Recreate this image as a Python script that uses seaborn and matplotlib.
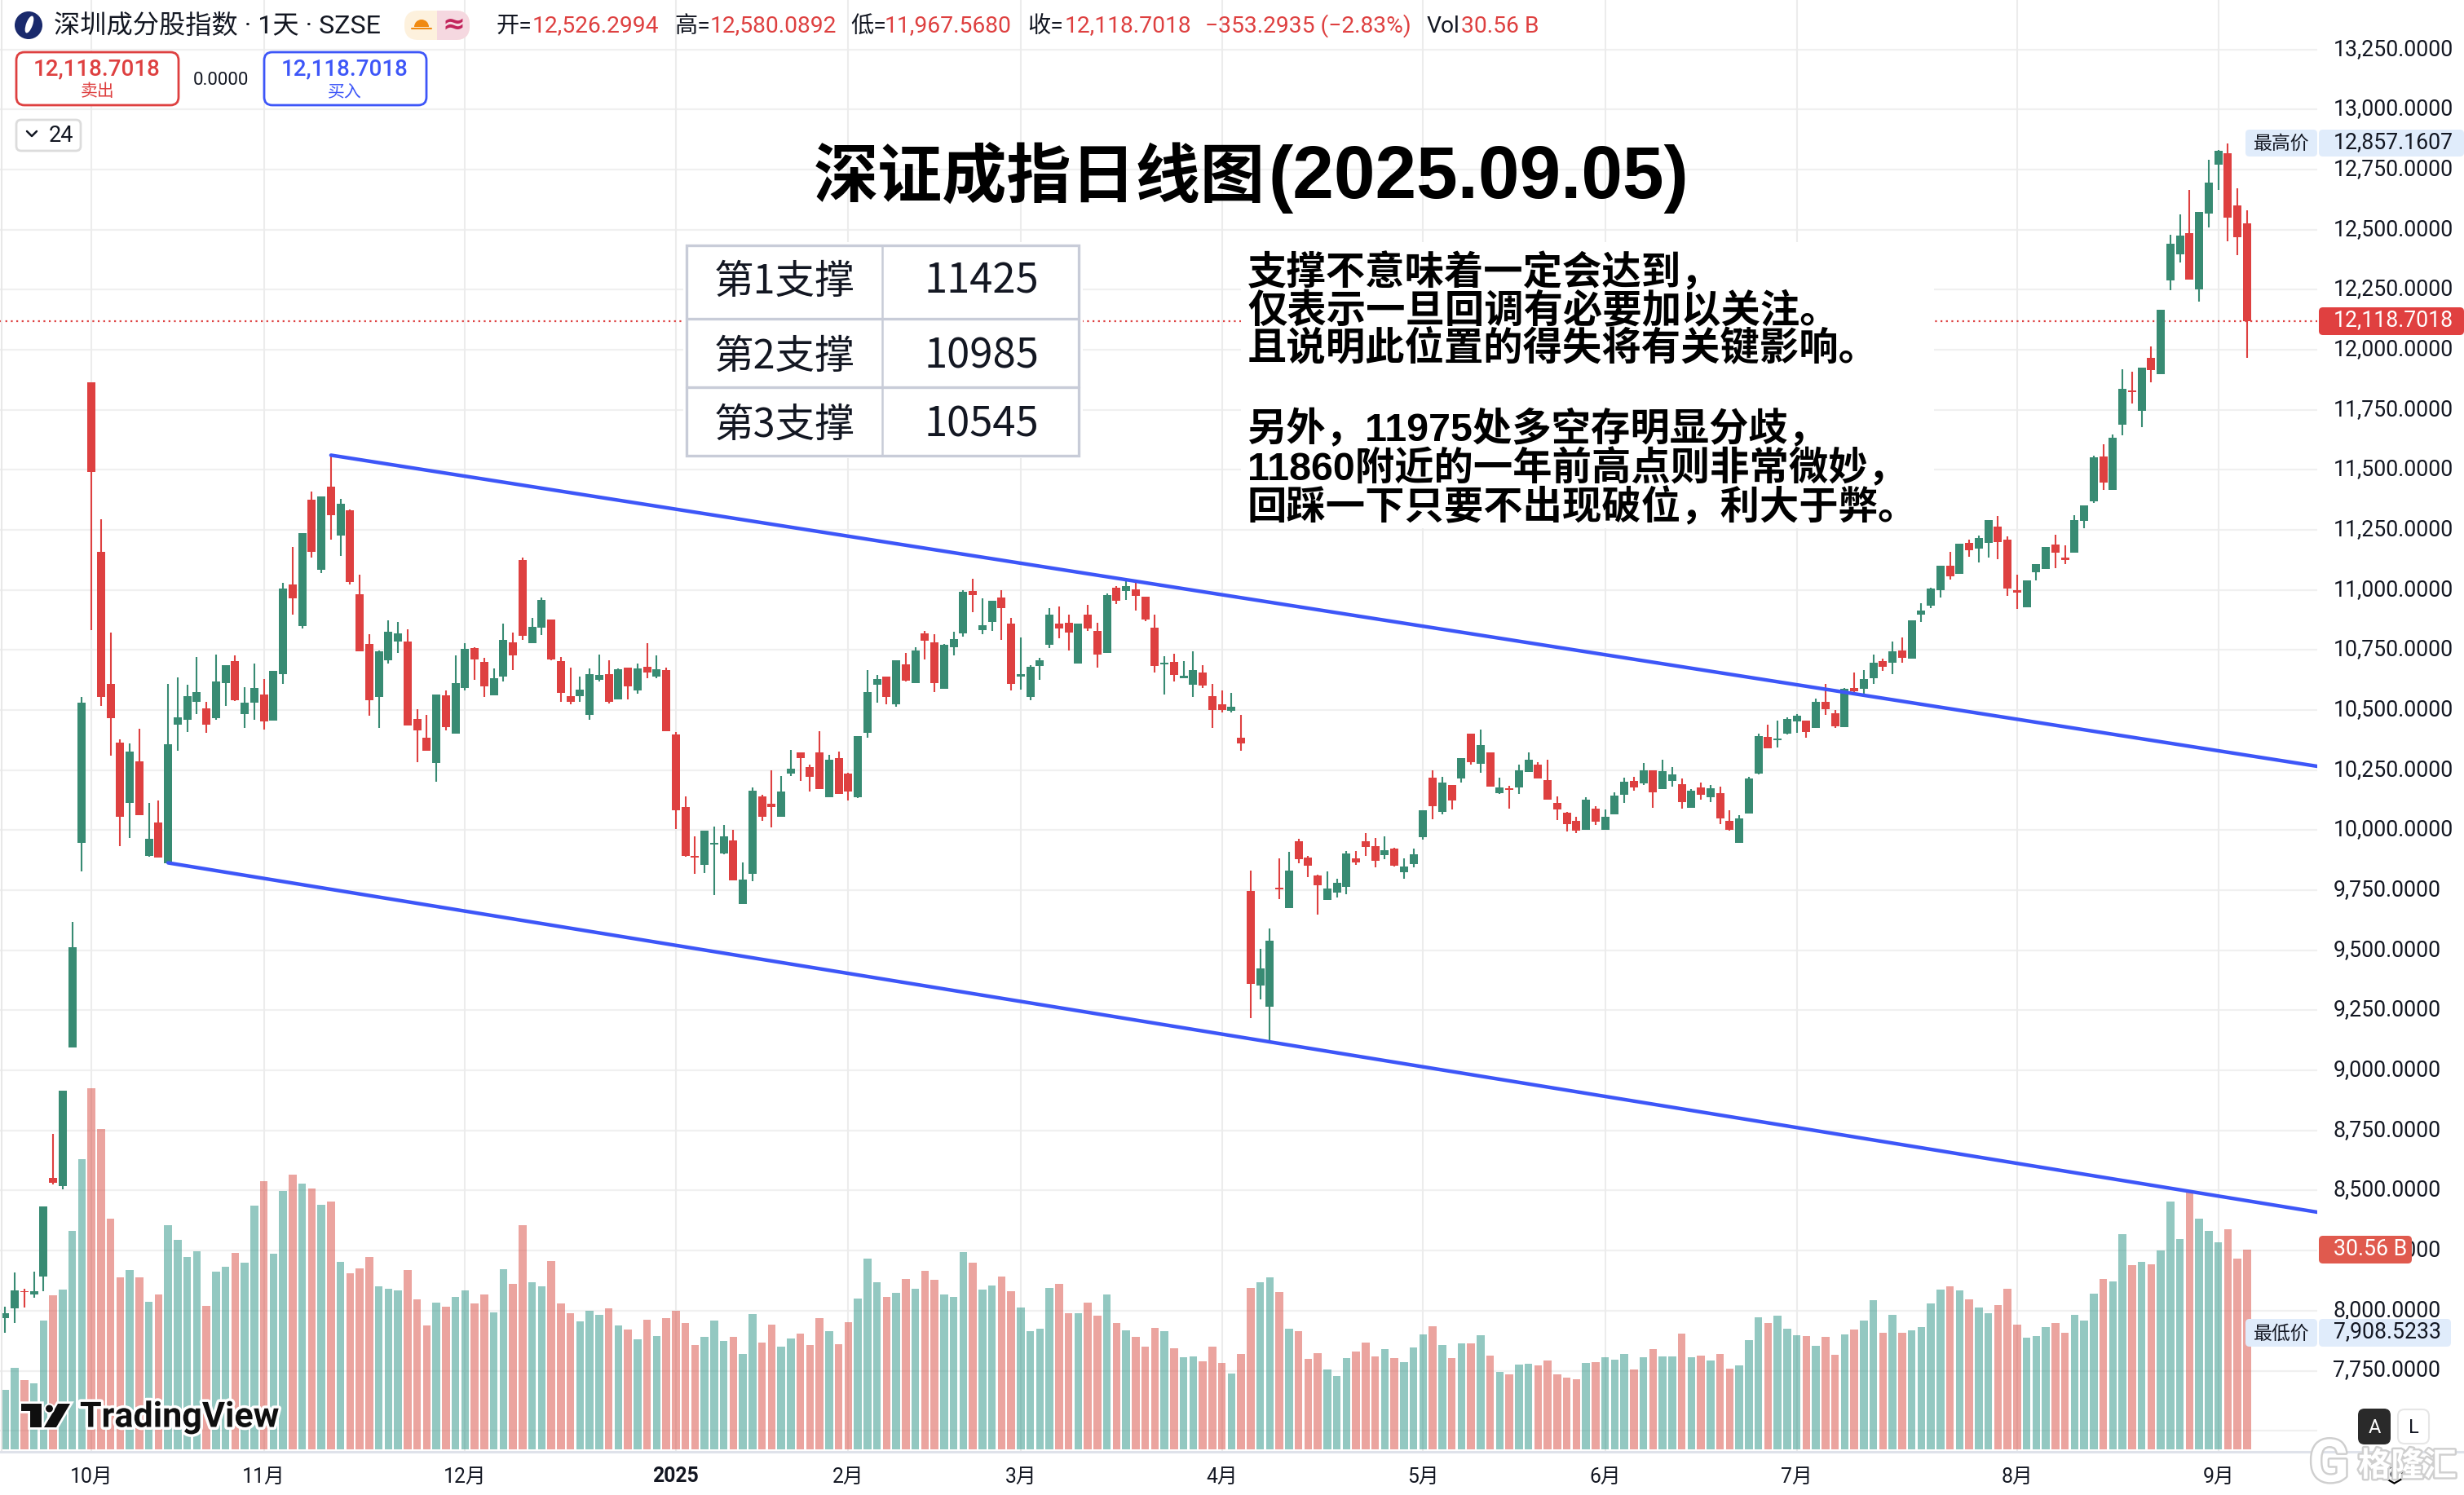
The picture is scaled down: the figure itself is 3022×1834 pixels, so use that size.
import numpy as np
import pandas as pd
import matplotlib
matplotlib.use("Agg")
import matplotlib.pyplot as plt
import matplotlib.patheffects as pe
from matplotlib.patches import Rectangle, FancyBboxPatch, Circle, Wedge, Polygon, Ellipse
from matplotlib.transforms import ScaledTranslation
import seaborn as sns

opens = [7970,8010,8082,8067,8143,8552,8520,9095,9947,11864,
11159,10609,10364,10114,10287,9893,10032,9864,10440,10458,
10534,10506,10467,10612,10703,10483,10530,10565,10455,10650,
11023,10850,11376,11083,11430,11226,11332,10982,10774,10555,
10708,10785,10785,10462,10385,10279,10561,10402,10591,10758,
10700,10561,10640,10782,11124,10779,10843,10877,10703,10558,
10558,10480,10626,10650,10544,10676,10582,10680,10640,10667,
10399,10096,9893,9855,9941,9903,9958,9693,9819,10141,
10109,10056,10235,10323,10262,10323,10137,10300,10235,10137,
10405,10605,10640,10525,10690,10612,10820,10782,10588,10761,
10820,10996,10832,10867,10968,10859,10640,10555,10684,10771,
10859,10864,10694,10897,10829,10738,11009,10996,11002,10971,
10843,10690,10700,10632,10605,10656,10558,10525,10497,10385,
9747,9354,9266,9761,9676,9953,9886,9811,9710,9740,
9764,9883,9954,9934,9896,9923,9825,9859,9971,10219,
10076,10188,10215,10402,10276,10324,10154,10175,10178,10242,
10273,10208,10113,10073,10039,10002,10090,10002,10066,10147,
10205,10195,10249,10171,10205,10192,10093,10178,10137,10154,
10039,9947,10069,10236,10388,10375,10402,10453,10456,10426,
10534,10487,10429,10592,10588,10633,10703,10696,10747,10714,
10897,10935,10999,11100,11067,11195,11171,11195,11264,11209,
11000,10927,11074,11086,11189,11135,11154,11288,11368,11556,
11417,11688,11832,11745,11967,11898,12288,12397,12485,12251,
12566,12771,12818,12601,12526]

closes = [7989,8084,8076,8081,8433,8533,8915,9513,10530,11491,
10555,10467,10056,10327,10062,9964,9887,10358,10470,10558,
10574,10440,10618,10686,10541,10530,10591,10453,10662,11006,
10965,11236,11159,11389,11311,11359,11033,10744,10541,10744,
10826,10820,10435,10415,10330,10565,10429,10612,10755,10711,
10599,10632,10793,10728,10809,10846,10958,10711,10571,10534,
10585,10650,10646,10534,10670,10599,10673,10656,10670,10412,
10082,9893,9887,9997,9947,9975,9791,9794,10164,10056,
10096,10161,10256,10300,10222,10172,10293,10150,10161,10391,
10575,10629,10555,10708,10623,10747,10788,10612,10771,10796,
10993,10979,10853,10955,10925,10609,10650,10681,10708,10897,
10840,10823,10859,10840,10731,10979,10955,11015,10976,10878,
10684,10697,10646,10643,10667,10602,10500,10500,10514,10361,
9360,9425,9540,9753,9832,9879,9852,9771,9757,9781,
9903,9866,9930,9873,9917,9852,9849,9900,10083,10100,
10198,10124,10300,10283,10354,10181,10178,10168,10249,10293,
10215,10127,10086,10025,9998,10127,10035,10056,10144,10202,
10178,10249,10158,10246,10232,10117,10164,10147,10175,10049,
10002,10049,10215,10392,10341,10381,10463,10477,10409,10534,
10504,10432,10588,10578,10629,10697,10680,10744,10717,10873,
10914,11006,11100,11056,11192,11165,11215,11291,11199,11006,
10989,11039,11107,11179,11154,11124,11291,11351,11551,11447,
11633,11838,11824,11926,11915,12167,12441,12476,12292,12574,
12695,12829,12550,12468,12118]

highs = [8016,8159,8090,8163,8433,8736,8915,9618,10556,11864,
11294,10823,10378,10361,10421,10114,10123,10609,10636,10605,
10721,10534,10730,10686,10727,10596,10694,10629,10662,11029,
11179,11236,11409,11389,11561,11379,11335,11064,10815,10749,
10873,10867,10836,10503,10481,10565,10582,10727,10779,10761,
10717,10673,10859,10823,11135,10884,10968,10877,10721,10676,
10640,10673,10730,10708,10673,10676,10694,10779,10728,10676,
10408,10141,9975,9997,10016,10022,10002,9866,10178,10147,
10249,10226,10334,10323,10273,10412,10314,10328,10238,10391,
10667,10646,10640,10708,10738,10761,10829,10815,10775,10826,
11000,11047,10965,10955,10999,10884,10802,10687,10717,10925,
10931,10897,10859,10938,10864,10985,11015,11038,11031,10971,
10897,10725,10735,10703,10744,10687,10609,10582,10571,10481,
9832,9506,9591,9882,9909,9964,9893,9815,9828,9798,
9913,9913,9988,9968,9974,9927,9883,9923,10083,10249,
10222,10188,10300,10402,10419,10324,10219,10185,10273,10324,
10283,10293,10141,10076,10056,10137,10100,10086,10158,10219,
10222,10280,10249,10293,10263,10215,10171,10198,10188,10181,
10083,10063,10222,10402,10439,10456,10470,10483,10456,10548,
10609,10500,10592,10656,10667,10731,10714,10785,10802,10873,
10944,11009,11100,11159,11192,11209,11226,11291,11308,11223,
11065,11039,11107,11179,11230,11185,11311,11351,11559,11606,
11647,11918,11909,11926,12014,12167,12479,12564,12665,12574,
12791,12832,12857,12673,12580]

lows = [7908,7950,8014,8054,8082,8526,8506,9095,9827,10833,
10517,10311,9934,9967,10062,9890,9887,9864,10330,10408,
10482,10405,10459,10517,10538,10426,10459,10418,10455,10609,
10897,10840,11135,11070,11209,11141,11023,10744,10476,10426,
10694,10738,10435,10284,10330,10202,10415,10402,10582,10626,
10555,10561,10618,10667,10793,10779,10812,10708,10534,10524,
10534,10459,10618,10527,10544,10544,10568,10632,10632,10412,
10005,9890,9818,9822,9729,9899,9791,9693,9788,10038,
10011,10056,10226,10205,10161,10172,10137,10150,10123,10134,
10385,10531,10525,10514,10618,10612,10711,10575,10588,10728,
10806,10908,10815,10829,10793,10582,10585,10541,10626,10758,
10799,10747,10694,10829,10676,10738,10941,10958,10914,10870,
10656,10565,10618,10632,10555,10591,10426,10491,10491,10329,
9219,9296,9125,9713,9676,9863,9805,9649,9710,9720,
9733,9856,9893,9845,9879,9849,9798,9845,9961,10046,
10066,10086,10198,10273,10239,10181,10151,10090,10151,10242,
10215,10127,10042,9995,9988,10002,10022,10002,10066,10113,
10164,10188,10093,10171,10181,10090,10093,10127,10117,10025,
9998,9947,10069,10232,10341,10344,10398,10405,10385,10426,
10480,10426,10429,10572,10565,10609,10662,10650,10697,10714,
10867,10923,10968,11042,11067,11138,11114,11135,11127,10977,
10921,10927,11039,11086,11091,11107,11154,11256,11362,11417,
11417,11644,11776,11677,11864,11898,12248,12364,12292,12200,
12509,12665,12451,12394,11967]

volumes = [9.13,12.45,10.58,10.07,19.67,23.53,24.43,33.39,44.39,55.22,
48.98,35.26,26.30,27.40,26.30,22.56,23.66,34.28,32.03,29.40,
30.29,21.92,27.19,27.91,30.03,28.55,37.26,40.99,29.91,39.51,
42.01,40.65,39.89,37.38,37.89,28.67,26.93,27.65,29.40,24.94,
24.55,24.30,27.40,22.94,18.95,22.39,21.79,23.32,24.30,22.30,
23.66,20.94,27.53,25.32,34.28,25.53,24.94,28.80,22.30,20.82,
19.54,21.20,20.56,21.54,18.95,18.31,16.82,19.80,17.33,20.05,
21.20,19.33,15.93,17.20,19.67,16.57,17.20,14.57,20.69,16.31,
19.07,15.68,16.95,17.67,15.93,20.08,18.08,16.09,19.45,23.07,
29.18,25.57,23.32,23.94,26.06,24.57,27.31,25.94,23.69,23.32,
30.18,28.56,24.44,25.07,26.44,24.19,21.70,18.08,18.46,24.69,
25.32,20.83,20.83,22.45,20.45,23.69,19.33,18.21,17.21,15.71,
18.58,18.08,15.46,14.09,14.22,13.47,15.71,13.22,11.60,14.59,
24.69,25.57,26.31,24.07,18.46,18.08,13.84,14.72,12.22,11.22,
13.97,14.97,16.34,14.22,15.34,13.97,13.34,15.59,17.58,18.83,
15.96,13.97,16.21,16.21,17.46,14.34,11.85,11.47,12.97,13.09,
12.85,13.59,11.47,10.97,10.73,13.22,13.34,14.09,13.72,14.59,
12.22,14.09,15.34,14.22,14.22,17.71,14.09,14.34,13.59,14.59,
12.35,12.85,16.71,20.20,19.33,20.45,18.46,17.46,17.33,15.84,
17.21,14.47,17.58,18.33,19.70,22.82,17.83,20.58,17.83,18.21,
18.71,22.32,24.44,24.94,24.32,22.95,21.70,20.83,22.07,24.57,
19.08,17.09,17.33,18.71,19.33,17.83,20.58,19.70,23.82,26.06,
25.69,32.92,28.18,28.68,28.31,30.43,37.91,32.18,39.24,35.29,
33.42,31.68,33.67,29.18,30.56]

month_pos = [9, 27, 48, 70, 88, 106, 127, 148, 167, 187, 210, 231]
month_labels = ["10月","11月","12月","2025","2月","3月","4月","5月","6月","7月","8月","9月"]
price_levels = [7500 + 250*k for k in range(24)]
label_levels = [p for p in price_levels if p >= 7750]
upper_x, upper_y = [34, 241.33], [11561, 10266]
lower_x, lower_y = [17, 241.33], [9864, 8410]
last_close = 12118.7018
support_names = ["第1支撑", "第2支撑", "第3支撑"]
support_values = ["11425", "10985", "10545"]
note_lines = ["支撑不意味着一定会达到，", "仅表示一旦回调有必要加以关注。", "且说明此位置的得失将有关键影响。",
              "另外，11975处多空存明显分歧，", "11860附近的一年前高点则非常微妙，", "回踩一下只要不出现破位，利大于弊。"]

W, H = 3022, 1834
GREEN, RED, INK = "#388b73", "#de4040", "#131722"
LAT = ["Roboto", "Noto Sans CJK SC"]
CJK = ["Noto Sans CJK SC", "DejaVu Sans"]
NOTE = ["Liberation Sans", "Noto Sans CJK SC"]

sns.set_theme(style="white")
plt.rcParams["font.family"] = LAT
fig = plt.figure(figsize=(W/100, H/100), dpi=100, facecolor="white")
rect = [0, (H-1780)/H, 2842/W, 1780/H]
ax = fig.add_axes(rect)
axv = ax.twinx()
ax.set_zorder(2); axv.set_zorder(1)
ax.patch.set_visible(False)

n = len(opens)
df = pd.DataFrame({"i": np.arange(n), "o": opens, "c": closes, "h": highs, "l": lows, "vol": volumes})
df["dir"] = np.where(df.c >= df.o, "up", "down")

xlim = (-6.4/11.75, (2842-6.4)/11.75)
ylim = (12750 - (1780-208)/0.2947, 12750 + 208/0.2947)

# grid (beneath the translucent volume bars)
for p in price_levels:
    axv.plot(xlim, [p, p], transform=ax.transData, color="#f0f0f0", lw=1.6, zorder=0)
axv.vlines(month_pos, 0, 1, transform=axv.get_xaxis_transform(), color="#ececec", lw=1.5, zorder=0)

sns.barplot(data=df, x="i", y="vol", hue="dir", hue_order=["up", "down"],
            palette={"up": "#299385", "down": "#d94b41"}, native_scale=True, dodge=False,
            width=0.8, saturation=1, alpha=0.5, linewidth=0, legend=False, ax=axv, zorder=2)
axv.set_xlabel(""); axv.set_ylabel("")
axv.set_yticks([])
axv.set_ylim(-0.25, 1780*0.1247 - 0.25)

# candles
colors = np.where(df.c >= df.o, GREEN, RED)
ax.vlines(df.i, df.l, df.h, colors=colors, lw=1.5, zorder=4)
ax.bar(df.i, (df.c - df.o).abs().clip(lower=6), bottom=df[["o", "c"]].min(axis=1), width=0.84,
       color=colors, linewidth=0, zorder=5)
ax.plot(xlim, [last_close, last_close], color=RED, lw=1.6, ls=(0, (1, 2)), zorder=3)
sns.lineplot(x=upper_x, y=upper_y, color="#3d56f8", lw=3.2, estimator=None, ax=ax, zorder=6)
sns.lineplot(x=lower_x, y=lower_y, color="#3d56f8", lw=3.2, estimator=None, ax=ax, zorder=6)

ax.set_xlim(*xlim); axv.set_xlim(*xlim); ax.set_ylim(*ylim)
ax.yaxis.tick_right()
ax.set_yticks(label_levels, [f"{v:,.4f}" for v in label_levels], fontsize=19.2, color=INK)
ax.set_xticks(month_pos, month_labels, fontsize=17.8, color=INK, fontfamily=LAT)
ax.tick_params(axis="y", length=0, pad=14)
ax.tick_params(axis="x", length=0, pad=14)
lift = ScaledTranslation(0, 3.5/100, fig.dpi_scale_trans)
for lab in ax.get_yticklabels():
    lab.set_transform(lab.get_transform() + lift)
for lab in ax.get_xticklabels():
    if lab.get_text() == "2025":
        lab.set_fontweight("bold")
for a in (ax, axv):
    for s in a.spines.values():
        s.set_visible(False)
    a.grid(False)

# overlay in picture pixels for the chart furniture
ov = fig.add_axes([0, 0, 1, 1], zorder=10)
ov.set_xlim(0, W); ov.set_ylim(H, 0); ov.axis("off"); ov.patch.set_visible(False)

def T(x, y, s, size, color=INK, ha="left", va="center", weight="normal", fam=LAT, z=20, **kw):
    return ov.text(x, y, s, fontsize=size, color=color, ha=ha, va=va, fontweight=weight, fontfamily=fam, zorder=z, **kw)

def box(x0, y0, x1, y1, fc="white", ec="none", lw=0, r=0, z=5):
    if r:
        p = FancyBboxPatch((x0, y0), x1-x0, y1-y0, boxstyle=f"round,pad=0,rounding_size={r}", fc=fc, ec=ec, lw=lw, zorder=z)
    else:
        p = Rectangle((x0, y0), x1-x0, y1-y0, fc=fc, ec=ec, lw=lw, zorder=z)
    ov.add_patch(p)
    return p

ov.plot([2, 2], [0, 1780], color="#e8e8e8", lw=1.5, zorder=1)
ov.plot([0, W], [1781, 1781], color="#dfe2ea", lw=2.2, zorder=1)

# header
ov.add_patch(Circle((35, 31), 17, fc="#1a2a6c", ec="none", zorder=6))
ov.add_patch(Ellipse((36, 30), 8, 22, angle=20, fc="white", ec="none", zorder=7))
T(66, 32, "深圳成分股指数 · 1天 · SZSE", 23.2)
pill = box(496, 13, 576, 49, fc="#fdf1dd", r=17)
rt = Rectangle((536, 13), 40, 36, fc="#f5d8e0", ec="none", zorder=6); ov.add_patch(rt); rt.set_clip_path(pill)
ov.add_patch(Wedge((517, 33), 9, 180, 360, fc="#f08a12", ec="none", zorder=7))
ov.plot([505, 529], [35, 35], color="#f08a12", lw=1.5, zorder=7)
T(557, 30, "≈", 24, color="#c2255c", ha="center", fam=["DejaVu Sans"], weight="bold")
hdr = [(609, "开=", INK), (653, "12,526.2994", RED), (827, "高=", INK), (871, "12,580.0892", RED),
       (1043, "低=", INK), (1085, "11,967.5680", RED), (1260, "收=", INK), (1306, "12,118.7018", RED),
       (1478, "−353.2935 (−2.83%)", RED), (1750, "Vol", INK), (1792, "30.56 B", RED)]
for x, s, c in hdr:
    T(x, 32, s, 20.3, color=c)

# bid / ask buttons
BLUE = "#3d56f8"
box(20, 64, 219, 129, ec=RED, lw=2, r=10, z=6)
box(324, 64, 523, 129, ec=BLUE, lw=2, r=10, z=6)
T(119, 85, "12,118.7018", 20, color=RED, ha="center", weight="medium")
T(119, 112, "卖出", 15, color=RED, ha="center", fam=CJK)
T(423, 85, "12,118.7018", 20, color=BLUE, ha="center", weight="medium")
T(423, 112, "买入", 15, color=BLUE, ha="center", fam=CJK)
T(271, 98, "0.0000", 16, ha="center")
box(20, 147, 99, 185, ec="#dcdcdc", lw=2, r=6, z=6)
ov.plot([33, 39, 45], [161, 167, 161], color=INK, lw=1.8, zorder=20)
T(75, 167, "24", 19.5, ha="center")

# title
T(998, 219, "深证成指日线图", 57, color="black", weight="bold", fam=CJK)
T(1556, 219, "(2025.09.05)", 65.5, color="black", weight="bold", fam=["Liberation Sans"])

# support table
box(838, 297, 1328, 562, z=4)
box(842, 301, 1323, 559, ec="#c8ccd8", lw=2.4, z=6)
for y in (391, 475):
    ov.plot([842, 1323], [y, y], color="#c8ccd8", lw=2.4, zorder=6)
ov.plot([1082, 1082], [301, 559], color="#c8ccd8", lw=1.8, zorder=6)
for y, a, b in zip((346, 438, 522), support_names, support_values):
    T(962, y, a, 35, ha="center", fam=CJK)
    T(1204, y, b, 36.5, ha="center", fam=CJK)

# note
box(1522, 297, 2372, 648, z=4)
for y, s in zip((335, 383, 429, 527, 575, 623), note_lines):
    T(1530, y, s, 34.8, color="black", weight="bold", fam=NOTE)

# price tags
TAG = "#e0ecfb"
box(2754, 159, 2842, 192, fc=TAG, r=5, z=6); box(2844, 159, 3022, 192, fc=TAG, r=5, z=6)
T(2798, 176, "最高价", 16.5, ha="center", fam=CJK); T(2862, 175, "12,857.1607", 19.2)
box(2844, 377, 3022, 411, fc="#e04040", r=5, z=6); T(2862, 393, "12,118.7018", 19.2, color="white")
box(2754, 1618, 2842, 1652, fc=TAG, r=5, z=6); box(2844, 1618, 3006, 1652, fc=TAG, r=5, z=6)
T(2798, 1636, "最低价", 16.5, ha="center", fam=CJK); T(2862, 1634, "7,908.5233", 19.2)
box(2844, 1516, 2958, 1550, fc="#e05a4e", r=5, z=6); T(2862, 1532, "30.56 B", 19.2, color="white")

# TradingView mark
wh = [pe.withStroke(linewidth=5, foreground="white")]
for poly in ([(25.5, 1722), (51, 1722), (51, 1751), (37, 1751), (37, 1731), (25.5, 1731)],
             [(86, 1722), (71, 1722), (54, 1751), (69, 1751)]):
    p = Polygon(poly, fc="#0f0f0f", ec="none", zorder=12); p.set_path_effects([pe.withStroke(linewidth=4, foreground="white")]); ov.add_patch(p)
ov.add_patch(Circle((60.5, 1728), 5.5, fc="#0f0f0f", ec="white", lw=1.5, zorder=12))
T(98, 1739, "TradingView", 31, color="#0f0f0f", weight="bold", path_effects=wh)

# auto / log buttons
box(2892, 1728, 2932, 1772, fc="#2a2a2a", r=8, z=8); T(2912, 1751, "A", 17, color="white", ha="center")
box(2941, 1729, 2979, 1771, fc="white", ec="#e6e6e6", lw=1.5, r=8, z=8); T(2960, 1751, "L", 17, ha="center")
ov.plot([2936], [1808], marker="h", ms=16, mfc="none", mec="black", mew=1.6, zorder=9)
ov.plot([2936], [1808], marker="o", ms=6, mfc="none", mec=INK, mew=1.2, zorder=9)

# watermark
sh = [pe.withStroke(linewidth=3.5, foreground="#cfcfcf")]
T(2832, 1798, "G", 52, color="white", weight="bold", path_effects=sh, z=22)
T(2892, 1799, "格隆汇", 29, color="white", weight="bold", fam=CJK, path_effects=sh, z=22)

fig.savefig("out.png", dpi=100, facecolor="white")
